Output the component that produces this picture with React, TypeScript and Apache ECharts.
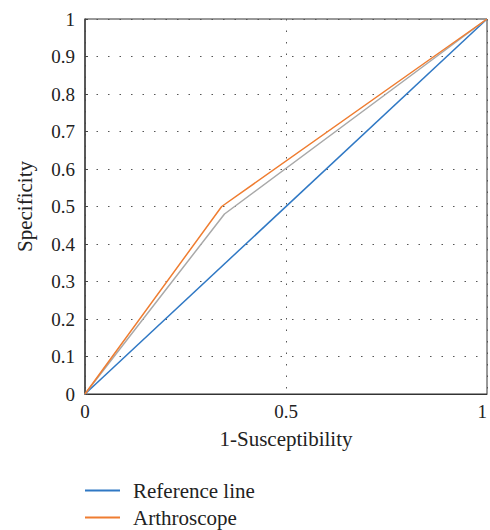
import React, { useEffect, useRef } from "react";
import * as echarts from "echarts";

const referenceLine: [number, number][] = [[0, 0], [1, 1]];
const arthroscope: [number, number][] = [[0, 0], [0.34, 0.5], [1, 1]];
const other: [number, number][] = [[0, 0], [0.347, 0.48], [1, 1]];
const seriesNames = ["Reference line", "Arthroscope", "MRI"];
const colors = ["#2f78c4", "#ef7d31", "#a9a9a9"];

export default function App() {
  const ref = useRef<HTMLDivElement>(null);
  useEffect(() => {
    if (!ref.current) return;
    document.body.style.margin = "0";
    document.body.style.overflow = "hidden";
    const chart = echarts.init(ref.current, null, { renderer: "svg" });
    const font = "'Liberation Serif', 'DejaVu Serif', serif";
    chart.setOption({
      animation: false,
      textStyle: { fontFamily: font },
      grid: { left: 85, right: 2, top: 19, bottom: 136, show: true, borderColor: "#333", borderWidth: 1 },
      xAxis: {
        type: "value", min: 0, max: 1, interval: 0.5,
        name: "1-Susceptibility", nameLocation: "middle", nameGap: 34,
        nameTextStyle: { fontFamily: font, fontSize: 21, color: "#222" },
        axisLine: { show: true, lineStyle: { color: "#333" } },
        axisTick: { show: false },
        axisLabel: { fontFamily: font, fontSize: 19, color: "#222", margin: 8, alignMaxLabel: "right", formatter: (v: number) => String(v) },
        splitLine: { show: true, lineStyle: { type: [1.5, 10], color: "#555", width: 1 } },
      },
      yAxis: {
        type: "value", min: 0, max: 1, interval: 0.1,
        name: "Specificity", nameLocation: "middle", nameGap: 50,
        nameTextStyle: { fontFamily: font, fontSize: 21, color: "#222" },
        axisLine: { show: true, lineStyle: { color: "#444", width: 1.5 } },
        axisTick: { show: true, inside: true, length: 3, lineStyle: { color: "#444" } },
        axisLabel: { fontFamily: font, fontSize: 19, color: "#222", margin: 10, formatter: (v: number) => String(Math.round(v * 10) / 10) },
        splitLine: { show: true, lineStyle: { type: [1.5, 10], color: "#555", width: 1 } },
      },
      legend: {
        orient: "vertical", left: 85, top: 480, itemGap: 6, padding: 0,
        itemWidth: 35, itemHeight: 2, icon: "rect",
        data: [seriesNames[0], seriesNames[1]],
        textStyle: { fontFamily: font, fontSize: 21, color: "#222", padding: [0, 0, 0, 8] },
      },
      series: [
        { name: seriesNames[0], type: "line", data: referenceLine, showSymbol: false, lineStyle: { color: colors[0], width: 1.5 }, itemStyle: { color: colors[0] } },
        { name: seriesNames[2], type: "line", data: other, showSymbol: false, lineStyle: { color: colors[2], width: 1.5 }, itemStyle: { color: colors[2] } },
        { name: seriesNames[1], type: "line", data: arthroscope, showSymbol: false, lineStyle: { color: colors[1], width: 1.5 }, itemStyle: { color: colors[1] } },
      ],
    });
    return () => chart.dispose();
  }, []);
  return <div ref={ref} style={{ width: 490, height: 530 }} />;
}
